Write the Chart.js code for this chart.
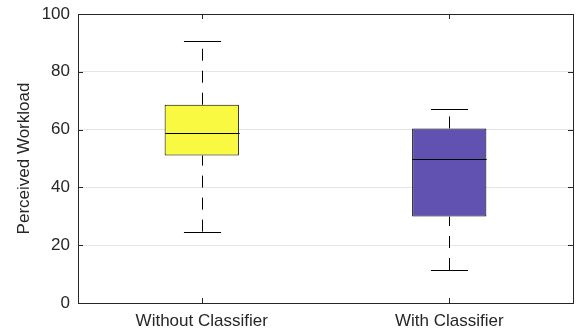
<!DOCTYPE html>
<html><head><meta charset="utf-8">
<script src="https://cdn.jsdelivr.net/npm/chart.js@4/dist/chart.umd.min.js"></script>
<style>html,body{margin:0;padding:0;background:#fff}#wrap{width:576px;height:333px}</style>
</head><body><div id="wrap"><canvas id="c" width="576" height="333"></canvas></div>
<script>
const categories = ["Without Classifier", "With Classifier"];
const q1 = [51.0, 29.9];
const median = [58.7, 49.7];
const q3 = [68.6, 60.4];
const whiskerLow = [24.7, 11.4];
const whiskerHigh = [90.7, 67.2];
const yTicks = [0, 20, 40, 60, 80, 100];
const fillColors = ["rgb(249,249,66)", "rgb(97,81,177)"];

const FONT = "'Liberation Sans', Arial, sans-serif";

const boxPlugin = {
  id: 'boxExtras',
  afterDatasetsDraw(chart) {
    const {ctx, chartArea: a, scales: {x, y}} = chart;
    const meta = chart.getDatasetMeta(0);
    ctx.save();
    meta.data.forEach((bar, i) => {
      const cx = Math.round(bar.x) + 0.5;
      const half = bar.width / 2;
      const capHalf = half / 2;
      ctx.strokeStyle = '#000';
      ctx.lineWidth = 1;
      const ym = Math.round(y.getPixelForValue(median[i])) + 0.5;
      ctx.beginPath(); ctx.moveTo(cx - half, ym); ctx.lineTo(cx + half, ym); ctx.stroke();
      ctx.setLineDash([12, 10]);
      ctx.beginPath();
      ctx.moveTo(cx, y.getPixelForValue(q3[i])); ctx.lineTo(cx, y.getPixelForValue(whiskerHigh[i]));
      ctx.stroke();
      ctx.beginPath();
      ctx.moveTo(cx, y.getPixelForValue(whiskerLow[i])); ctx.lineTo(cx, y.getPixelForValue(q1[i]));
      ctx.stroke();
      ctx.setLineDash([]);
      ctx.beginPath();
      const yh = Math.round(y.getPixelForValue(whiskerHigh[i])) + 0.5;
      const yl = Math.round(y.getPixelForValue(whiskerLow[i])) + 0.5;
      ctx.moveTo(cx - capHalf, yh); ctx.lineTo(cx + capHalf, yh);
      ctx.moveTo(cx - capHalf, yl); ctx.lineTo(cx + capHalf, yl);
      ctx.stroke();
    });
    ctx.strokeStyle = '#262626';
    ctx.lineWidth = 1;
    ctx.strokeRect(Math.round(a.left) + 0.5, Math.round(a.top) + 0.5, Math.round(a.right - a.left), Math.round(a.bottom - a.top));
    ctx.beginPath();
    const tl = 5;
    yTicks.forEach(v => {
      const py = Math.round(y.getPixelForValue(v)) + 0.5;
      ctx.moveTo(a.left, py); ctx.lineTo(a.left + tl, py);
      ctx.moveTo(a.right, py); ctx.lineTo(a.right - tl, py);
    });
    categories.forEach((c, i) => {
      const px = Math.round(x.getPixelForValue(i)) + 0.5;
      ctx.moveTo(px, a.bottom); ctx.lineTo(px, a.bottom - tl);
      ctx.moveTo(px, a.top); ctx.lineTo(px, a.top + tl);
    });
    ctx.stroke();
    ctx.restore();
  }
};

new Chart(document.getElementById('c'), {
  type: 'bar',
  data: {
    labels: categories,
    datasets: [{
      data: categories.map((c, i) => [q1[i], q3[i]]),
      backgroundColor: fillColors,
      borderColor: '#000',
      borderWidth: 1,
      borderSkipped: false,
      barPercentage: 0.3,
      categoryPercentage: 1.0
    }]
  },
  options: {
    responsive: false,
    animation: false,
    devicePixelRatio: 1,
    layout: {padding: {top: 14, right: 3, left: 0, bottom: 0}},
    plugins: {legend: {display: false}, tooltip: {enabled: false}},
    scales: {
      x: {
        grid: {display: false, drawTicks: false},
        border: {display: false},
        ticks: {color: '#262626', font: {family: FONT, size: 17}, padding: 8, maxRotation: 0},
        afterFit(s) { s.height = 30; s.paddingLeft = 0; s.paddingRight = 0; }
      },
      y: {
        min: 0, max: 100,
        afterBuildTicks(s) { s.ticks = yTicks.map(v => ({value: v})); },
        grid: {color: '#e5e5e5', drawTicks: false},
        border: {display: false},
        ticks: {color: '#262626', font: {family: FONT, size: 17}, padding: 8},
        title: {display: true, text: 'Perceived Workload', color: '#262626', font: {family: FONT, size: 17}, padding: {top: 14, bottom: 0}},
        afterFit(s) { s.width = 78; s.paddingTop = 0; s.paddingBottom = 0; }
      }
    }
  },
  plugins: [boxPlugin]
});
</script>
</body></html>
